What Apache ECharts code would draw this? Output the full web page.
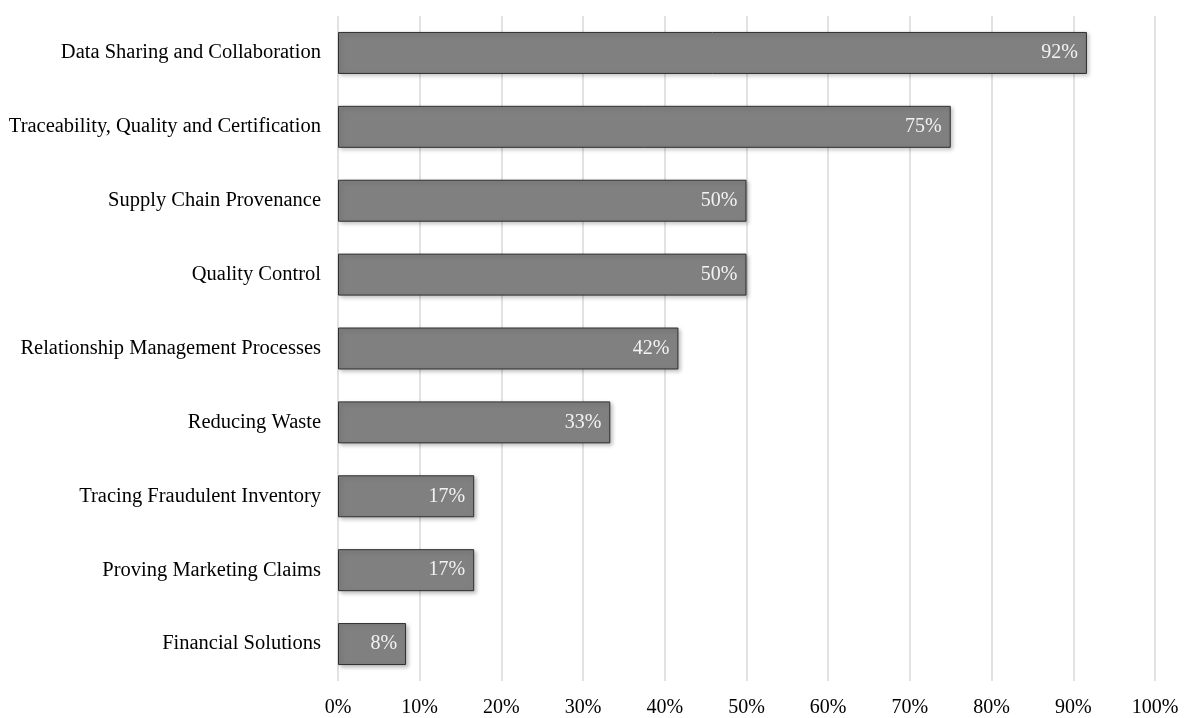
<!DOCTYPE html>
<html>
<head>
	<meta charset="utf-8">
	<title>Bar chart</title>
	<script src="https://cdn.jsdelivr.net/npm/echarts@6/dist/echarts.min.js"></script>
	<style>
		html, body { margin: 0; padding: 0; background: #fff; }
		#chart { width: 1186px; height: 718px; }
	</style>
</head>
<body>
<div id="chart"></div>
<script>
// categories, top to bottom as in the picture
var categories = [
    'Data Sharing and Collaboration',
    'Traceability, Quality and Certification',
    'Supply Chain Provenance',
    'Quality Control',
    'Relationship Management Processes',
    'Reducing Waste',
    'Tracing Fraudulent Inventory',
    'Proving Marketing Claims',
    'Financial Solutions'
];
// share of studies, in percent
var values = [91.67, 75, 50, 50, 41.67, 33.33, 16.67, 16.67, 8.33];
var xTicks = [0, 10, 20, 30, 40, 50, 60, 70, 80, 90, 100];

var chart = echarts.init(document.getElementById('chart'));
var serif = '"Liberation Serif", "DejaVu Serif", serif';

var option = {
    animation: false,
    grid: { left: 338, right: 31, top: 16, bottom: 34 },
    xAxis: {
        type: 'value',
        min: xTicks[0],
        max: xTicks[xTicks.length - 1],
        interval: 10,
        axisLine: { show: false },
        axisTick: { show: false },
        axisLabel: {
            formatter: '{value}%',
            color: '#000',
            fontFamily: serif,
            fontSize: 20,
            margin: 17
        },
        splitLine: { lineStyle: { color: '#d9d9d9', width: 1.5 } }
    },
    yAxis: {
        type: 'category',
        inverse: true,
        data: categories,
        axisLine: { show: false },
        axisTick: { show: false },
        axisLabel: {
            color: '#000',
            fontFamily: serif,
            fontSize: 20.5,
            margin: 17,
            padding: [3, 0, 0, 0]
        }
    },
    series: [{
        type: 'bar',
        data: values,
        barWidth: 42,
        itemStyle: {
            color: '#808080',
            borderColor: '#2e2e2e',
            borderWidth: 1,
            shadowColor: 'rgba(0,0,0,0.25)',
            shadowBlur: 4,
            shadowOffsetX: 2,
            shadowOffsetY: 2
        },
        label: {
            show: true,
            position: 'insideRight',
            distance: 9,
            padding: [3, 0, 0, 0],
            formatter: function (p) { return Math.round(p.value) + '%'; },
            color: '#f2f2f2',
            fontFamily: serif,
            fontSize: 20
        }
    }]
};
chart.setOption(option);
</script>
</body>
</html>
